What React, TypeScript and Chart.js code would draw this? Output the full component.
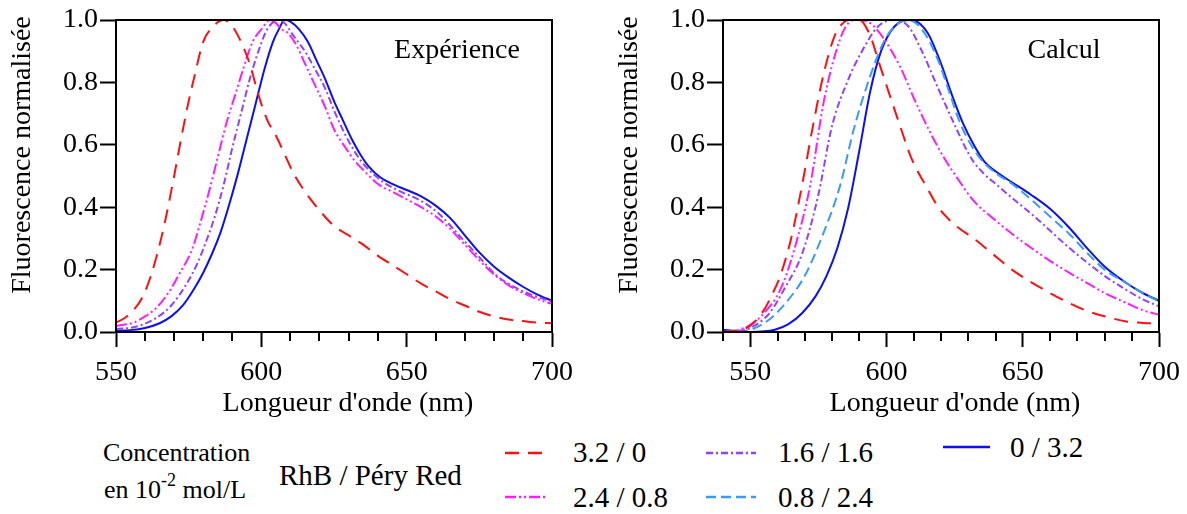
import React, { useEffect, useRef } from 'react';
import { Chart, registerables } from 'chart.js';

Chart.register(...registerables);

// ---------- tick labels ----------
const X_MAJOR = [550, 600, 650, 700];
const X_MINOR_EXP = [560, 570, 580, 590, 610, 620, 630, 640, 660, 670, 680, 690];
const X_MINOR_CALC = [540, 560, 570, 580, 590, 610, 620, 630, 640, 660, 670, 680, 690];
const LEGEND_LABELS = ['3.2 / 0', '2.4 / 0.8', '1.6 / 1.6', '0.8 / 2.4', '0 / 3.2'];

// ---------- Expérience (left) ----------
const expRedNm = [550, 553, 556, 559, 562, 565, 567, 570, 572, 575, 577, 580, 583, 587, 590, 593, 596, 599, 602, 605, 608, 611, 615, 620, 625, 630, 635, 640, 645, 650, 655, 660, 665, 670, 675, 680, 685, 690, 695, 700];
const expRedVal = [0.03, 0.045, 0.07, 0.11, 0.18, 0.28, 0.36, 0.5, 0.6, 0.74, 0.82, 0.93, 0.975, 1.0, 0.98, 0.93, 0.86, 0.76, 0.68, 0.63, 0.57, 0.51, 0.45, 0.39, 0.34, 0.31, 0.28, 0.245, 0.215, 0.185, 0.155, 0.13, 0.105, 0.085, 0.065, 0.05, 0.04, 0.035, 0.03, 0.028];

const expMagNm = [550, 556, 560, 563, 566, 569, 572, 576, 579, 582, 585, 588, 591, 594, 597, 600, 603, 605, 607, 609, 612, 615, 618, 622, 625, 629, 632, 635, 640, 645, 650, 655, 660, 665, 670, 675, 680, 685, 690, 695, 700];
const expMagVal = [0.02, 0.03, 0.05, 0.07, 0.1, 0.14, 0.19, 0.26, 0.35, 0.45, 0.56, 0.67, 0.76, 0.85, 0.93, 0.97, 1.0, 0.99, 0.97, 0.96, 0.92, 0.86, 0.8, 0.72, 0.65, 0.59, 0.55, 0.52, 0.475, 0.45, 0.425, 0.4, 0.37, 0.33, 0.28, 0.23, 0.185, 0.15, 0.125, 0.105, 0.09];

const expPurNm = [550, 556, 563, 569, 574, 578, 581, 584, 587, 590, 593, 596, 599, 602, 606, 608, 611, 615, 618, 622, 625, 629, 632, 635, 642, 648, 655, 661, 668, 674, 681, 688, 694, 700];
const expPurVal = [0.01, 0.015, 0.04, 0.085, 0.15, 0.22, 0.29, 0.37, 0.47, 0.59, 0.7, 0.81, 0.9, 0.97, 1.0, 0.99, 0.95, 0.9, 0.85, 0.78, 0.71, 0.63, 0.58, 0.54, 0.48, 0.45, 0.42, 0.38, 0.31, 0.25, 0.18, 0.14, 0.115, 0.098];

const expBluNm = [550, 555, 560, 565, 569, 573, 577, 580, 583, 586, 589, 592, 595, 598, 601, 604, 606, 608, 610, 613, 616, 619, 622, 625, 628, 631, 634, 637, 641, 645, 650, 655, 660, 665, 670, 675, 680, 685, 690, 695, 700];
const expBluVal = [0.004, 0.006, 0.013, 0.028, 0.05, 0.085, 0.14, 0.19, 0.25, 0.32, 0.41, 0.51, 0.62, 0.73, 0.84, 0.93, 0.97, 1.0, 0.995, 0.97, 0.93, 0.87, 0.81, 0.74, 0.68, 0.62, 0.57, 0.53, 0.495, 0.475, 0.455, 0.435, 0.405, 0.365, 0.31, 0.255, 0.21, 0.175, 0.145, 0.12, 0.1];

// ---------- Calcul (right) ----------
const calRedNm = [540, 545, 550, 555, 558, 561, 565, 569, 573, 577, 581, 584, 586, 590, 594, 597, 600, 605, 609, 615, 619, 623, 627, 632, 639, 646, 653, 660, 667, 674, 681, 688, 694, 700];
const calRedVal = [0.0, 0.005, 0.02, 0.07, 0.12, 0.18, 0.3, 0.47, 0.66, 0.83, 0.95, 0.99, 1.0, 1.0, 0.95, 0.87, 0.79, 0.66, 0.56, 0.46, 0.4, 0.36, 0.33, 0.3, 0.25, 0.2, 0.16, 0.125, 0.093, 0.066, 0.048, 0.034, 0.029, 0.027];

const calMagNm = [540, 545, 550, 555, 561, 566, 572, 577, 583, 586, 589, 594, 599, 605, 610, 616, 621, 627, 632, 639, 646, 653, 660, 667, 674, 680, 688, 694, 700];
const calMagVal = [0.0, 0.005, 0.023, 0.06, 0.135, 0.26, 0.47, 0.74, 0.94, 0.99, 1.0, 0.99, 0.94, 0.85, 0.75, 0.64, 0.56, 0.48, 0.42, 0.365, 0.315, 0.27, 0.228, 0.19, 0.155, 0.125, 0.093, 0.07, 0.055];

const calPurNm = [540, 545, 550, 557, 563, 569, 575, 580, 586, 591, 597, 603, 608, 613, 619, 626, 629, 632, 636, 640, 646, 653, 660, 667, 674, 680, 688, 694, 700];
const calPurVal = [0.0, 0.003, 0.013, 0.06, 0.146, 0.25, 0.44, 0.66, 0.81, 0.9, 0.98, 1.0, 0.98, 0.9, 0.78, 0.645, 0.59, 0.545, 0.505, 0.475, 0.43, 0.38, 0.325, 0.27, 0.22, 0.18, 0.135, 0.105, 0.082];

const calLbuNm = [540, 545, 550, 557, 563, 570, 577, 583, 588, 594, 599, 603, 608, 613, 619, 623, 627, 631, 635, 640, 646, 653, 660, 667, 674, 680, 688, 694, 700];
const calLbuVal = [0.0, 0.002, 0.007, 0.04, 0.093, 0.18, 0.32, 0.47, 0.65, 0.82, 0.93, 0.98, 1.0, 0.97, 0.87, 0.77, 0.67, 0.6, 0.55, 0.51, 0.475, 0.425, 0.37, 0.315, 0.25, 0.2, 0.157, 0.125, 0.098];

const calBluNm = [540, 545, 550, 559, 564, 569, 574, 578, 582, 586, 590, 594, 598, 603, 609, 615, 620, 624, 628, 632, 636, 640, 646, 653, 660, 667, 674, 680, 688, 694, 700];
const calBluVal = [0.007, 0.003, 0.0, 0.007, 0.025, 0.06, 0.115, 0.18, 0.27, 0.4, 0.58, 0.77, 0.9, 0.98, 1.0, 0.96, 0.86, 0.76, 0.67, 0.6, 0.545, 0.515, 0.48, 0.44, 0.395, 0.335, 0.265, 0.21, 0.157, 0.125, 0.1];

// ---------- styles ----------
const RED = '#ff1010';
const MAGENTA = '#ff1cff';
const PURPLE = '#9440ff';
const LIGHTBLUE = '#3a9bf7';
const BLUE = '#0c10f0';

const DASH_RED = [14, 9];
const DASH_MAG = [11, 3, 2, 3, 2, 3];
const DASH_PUR = [7, 3, 2, 3];
const DASH_LBU = [10, 5];
const DASH_BLU: number[] = [];

const FONT =
  "'Liberation Serif', 'Times New Roman', Times, 'Nimbus Roman', FreeSerif, 'Noto Serif', 'DejaVu Serif', serif";

type Series = { nm: number[]; val: number[]; color: string; dash: number[] };

const framePlugin = {
  id: 'frame',
  afterDraw(chart: any, _args: any, opts: any) {
    const { ctx, chartArea: a, scales } = chart;
    ctx.save();
    ctx.strokeStyle = '#000';
    ctx.lineWidth = 2;
    ctx.setLineDash([]);
    ctx.strokeRect(a.left, a.top, a.right - a.left, a.bottom - a.top);
    ctx.beginPath();
    for (const v of opts.minor as number[]) {
      const px = Math.round(scales.x.getPixelForValue(v));
      ctx.moveTo(px, a.bottom);
      ctx.lineTo(px, a.bottom + 9);
    }
    ctx.stroke();
    ctx.font = '28px ' + FONT;
    ctx.fillStyle = '#000';
    ctx.textAlign = 'center';
    ctx.textBaseline = 'middle';
    ctx.fillText(opts.label, a.right - 95, a.top + 31);
    ctx.restore();
  },
};

function SpectrumChart(props: { series: Series[]; xMin: number; minor: number[]; label: string; left: number }) {
  const ref = useRef<HTMLCanvasElement>(null);
  useEffect(() => {
    const chart = new Chart(ref.current as HTMLCanvasElement, {
      type: 'line',
      data: {
        datasets: props.series.map((s) => ({
          data: s.nm.map((x, i) => ({ x, y: s.val[i] })),
          borderColor: s.color,
          borderDash: s.dash,
          borderWidth: 2,
          pointRadius: 0,
          fill: false,
          cubicInterpolationMode: 'monotone' as const,
        })),
      },
      options: {
        animation: false,
        responsive: false,
        layout: { padding: { left: 0, top: 20, right: 38, bottom: 0 } },
        plugins: {
          legend: { display: false },
          tooltip: { enabled: false },
          frame: { minor: props.minor, label: props.label },
        } as any,
        scales: {
          x: {
            type: 'linear',
            min: props.xMin,
            max: 700,
            afterBuildTicks: (s: any) => {
              s.ticks = X_MAJOR.map((v) => ({ value: v }));
            },
            afterFit: (s: any) => {
              s.height = 88;
            },
            grid: { drawOnChartArea: false, tickLength: 15, tickWidth: 2, tickColor: '#000' },
            border: { color: '#000', width: 2 },
            ticks: {
              color: '#000',
              font: { size: 28, family: FONT },
              padding: 9,
              maxRotation: 0,
              autoSkip: false,
            },
            title: {
              display: true,
              text: "\u2003Longueur d'onde (nm)",
              color: '#000',
              font: { size: 28, family: FONT },
              padding: { top: 0, bottom: 0 },
            },
          },
          y: {
            type: 'linear',
            min: 0,
            max: 1,
            afterFit: (s: any) => {
              s.width = 116;
            },
            grid: { drawOnChartArea: false, tickLength: 16, tickWidth: 2, tickColor: '#000' },
            border: { color: '#000', width: 2 },
            ticks: {
              stepSize: 0.2,
              color: '#000',
              font: { size: 28, family: FONT },
              padding: 2,
              callback: (v: any) => Number(v).toFixed(1),
            },
            title: {
              display: true,
              text: '\u2003\u2002Fluorescence normalisée',
              color: '#000',
              font: { size: 28, family: FONT },
              padding: { top: 6, bottom: 0 },
            },
          },
        },
      },
      plugins: [framePlugin],
    });
    return () => chart.destroy();
  }, []);
  return (
    <div style={{ position: 'absolute', left: props.left, top: 0, width: 590, height: 420 }}>
      <canvas ref={ref} width={590} height={420} style={{ width: 590, height: 420, display: 'block' }} />
    </div>
  );
}

function LegendLine(props: { color: string; dash: number[]; left: number; top: number; width: number }) {
  return (
    <svg
      style={{ position: 'absolute', left: props.left, top: props.top - 5 }}
      width={props.width}
      height={10}
    >
      <line
        x1={0}
        y1={5}
        x2={props.width}
        y2={5}
        stroke={props.color}
        strokeWidth={2.5}
        strokeDasharray={props.dash.length ? props.dash.join(' ') : undefined}
      />
    </svg>
  );
}

function Txt(props: { left: number; cy: number; size: number; children: React.ReactNode }) {
  return (
    <div
      style={{
        position: 'absolute',
        left: props.left,
        top: props.cy - props.size / 2,
        fontSize: props.size,
        lineHeight: 1,
        fontFamily: FONT,
        whiteSpace: 'nowrap',
        color: '#000',
      }}
    >
      {props.children}
    </div>
  );
}

export default function App() {
  const expSeries: Series[] = [
    { nm: expRedNm, val: expRedVal, color: RED, dash: DASH_RED },
    { nm: expMagNm, val: expMagVal, color: MAGENTA, dash: DASH_MAG },
    { nm: expPurNm, val: expPurVal, color: PURPLE, dash: DASH_PUR },
    { nm: expBluNm, val: expBluVal, color: BLUE, dash: DASH_BLU },
  ];
  const calSeries: Series[] = [
    { nm: calRedNm, val: calRedVal, color: RED, dash: DASH_RED },
    { nm: calMagNm, val: calMagVal, color: MAGENTA, dash: DASH_MAG },
    { nm: calPurNm, val: calPurVal, color: PURPLE, dash: DASH_PUR },
    { nm: calLbuNm, val: calLbuVal, color: LIGHTBLUE, dash: DASH_LBU },
    { nm: calBluNm, val: calBluVal, color: BLUE, dash: DASH_BLU },
  ];
  const legendSize = 29;
  return (
    <div style={{ position: 'absolute', left: 0, top: 0, width: 1187, height: 514, background: '#fff', overflow: 'hidden' }}>
      <SpectrumChart series={expSeries} xMin={550} minor={X_MINOR_EXP} label="Expérience" left={0} />
      <SpectrumChart series={calSeries} xMin={540} minor={X_MINOR_CALC} label="Calcul" left={607} />

      <Txt left={103} cy={453} size={26}>Concentration</Txt>
      <Txt left={104} cy={490} size={26}>
        en 10<span style={{ position: 'relative', top: -12, fontSize: 18 }}>-2</span> mol/L
      </Txt>
      <Txt left={279} cy={475} size={legendSize}>RhB / Péry Red</Txt>

      <LegendLine color={RED} dash={DASH_RED} left={505} top={453} width={42} />
      <Txt left={573} cy={452} size={legendSize}>{LEGEND_LABELS[0]}</Txt>
      <LegendLine color={MAGENTA} dash={DASH_MAG} left={505} top={497} width={42} />
      <Txt left={573} cy={497} size={legendSize}>{LEGEND_LABELS[1]}</Txt>

      <LegendLine color={PURPLE} dash={DASH_PUR} left={706} top={453} width={50} />
      <Txt left={778} cy={452} size={legendSize}>{LEGEND_LABELS[2]}</Txt>
      <LegendLine color={LIGHTBLUE} dash={DASH_LBU} left={706} top={497} width={50} />
      <Txt left={778} cy={497} size={legendSize}>{LEGEND_LABELS[3]}</Txt>

      <LegendLine color={BLUE} dash={DASH_BLU} left={943} top={447} width={47} />
      <Txt left={1010} cy={447} size={legendSize}>{LEGEND_LABELS[4]}</Txt>
    </div>
  );
}
